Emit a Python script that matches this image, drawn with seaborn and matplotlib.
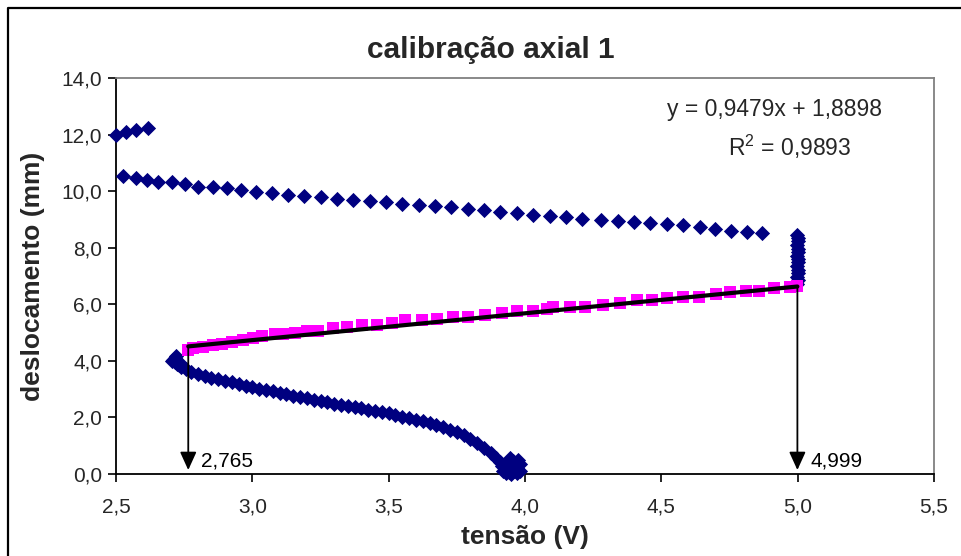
import matplotlib
matplotlib.use("Agg")
import matplotlib.pyplot as plt
import pandas as pd
import seaborn as sns
from matplotlib.lines import Line2D

sns.set_theme(style="white")
plt.rcParams['font.family'] = ['Liberation Sans', 'DejaVu Sans']
plt.rcParams['mathtext.fontset'] = 'custom'
plt.rcParams['mathtext.rm'] = 'Liberation Sans'

# Leituras do ensaio completo (losangos azuis): descida inicial, trecho vertical
# em 5 V, retorno superior e pontos finais perto de 12 mm
tensao_ensaio = [
    3.950, 3.960, 3.950, 3.960, 3.940, 3.970, 3.970, 3.930, 3.955, 3.965,
    3.920, 3.980, 3.980, 3.915, 3.975, 3.945,
    3.940, 3.935, 3.925, 3.910, 3.895, 3.875, 3.850, 3.825, 3.800, 3.775,
    3.750, 3.725, 3.700, 3.675, 3.650, 3.625, 3.600, 3.575, 3.550, 3.525,
    3.500, 3.475, 3.450, 3.425, 3.400, 3.375, 3.350, 3.325, 3.300, 3.275,
    3.250, 3.225, 3.200, 3.175, 3.150, 3.125, 3.100, 3.075, 3.050, 3.025,
    3.000, 2.975, 2.950, 2.925, 2.900, 2.875, 2.850, 2.825, 2.800, 2.775,
    2.755, 2.740, 2.730, 2.725, 2.715, 2.710, 2.715, 2.720, 2.705, 2.735,
    4.999, 5.000, 4.999, 5.001, 5.000, 4.999, 5.000, 5.001, 4.999, 5.000,
    5.000, 4.999, 5.001, 5.000, 4.999,
    4.868, 4.813, 4.755, 4.697, 4.640, 4.580, 4.520, 4.460, 4.400, 4.340,
    4.280, 4.210, 4.150, 4.090, 4.030, 3.970, 3.910, 3.850, 3.790, 3.730,
    3.670, 3.610, 3.550, 3.490, 3.430, 3.370, 3.310, 3.250, 3.190, 3.132,
    3.072, 3.013, 2.957, 2.906, 2.855, 2.802, 2.753, 2.704, 2.655, 2.613,
    2.573, 2.527,
    2.500, 2.537, 2.573, 2.617,
]
desloc_ensaio = [
    0.00, 0.10, 0.25, 0.38, 0.40, 0.22, 0.05, 0.02, 0.45, 0.30,
    0.12, 0.35, 0.12, 0.30, 0.50, 0.55,
    0.06, 0.16, 0.28, 0.42, 0.58, 0.76, 0.93, 1.11, 1.25, 1.37,
    1.47, 1.56, 1.65, 1.72, 1.80, 1.86, 1.91, 1.97, 2.03, 2.09,
    2.14, 2.20, 2.23, 2.27, 2.32, 2.37, 2.41, 2.45, 2.49, 2.53,
    2.57, 2.62, 2.68, 2.72, 2.77, 2.82, 2.87, 2.92, 2.97, 3.02,
    3.07, 3.12, 3.18, 3.24, 3.30, 3.35, 3.41, 3.46, 3.54, 3.62,
    3.70, 3.78, 3.84, 3.90, 3.95, 4.02, 4.10, 4.16, 3.98, 3.92,
    6.72, 6.85, 6.98, 7.10, 7.22, 7.35, 7.48, 7.60, 7.72, 7.85,
    7.97, 8.10, 8.22, 8.35, 8.45,
    8.53, 8.57, 8.60, 8.65, 8.74, 8.79, 8.84, 8.88, 8.92, 8.95,
    8.99, 9.03, 9.08, 9.13, 9.17, 9.22, 9.28, 9.33, 9.38, 9.43,
    9.47, 9.52, 9.56, 9.60, 9.64, 9.70, 9.73, 9.78, 9.82, 9.86,
    9.94, 9.98, 10.04, 10.10, 10.16, 10.16, 10.25, 10.31, 10.31, 10.39,
    10.45, 10.53,
    12.00, 12.08, 12.15, 12.23,
]

# Trecho usado na calibração (quadrados magenta)
tensao_calib = [
    2.765, 2.783, 2.820, 2.857, 2.888, 2.924, 2.967, 3.003, 3.034, 3.083,
    3.114, 3.156, 3.199, 3.242, 3.297, 3.346, 3.401, 3.456, 3.511, 3.560,
    3.621, 3.676, 3.737, 3.792, 3.853, 3.914, 3.969, 4.030, 4.079, 4.104,
    4.165, 4.220, 4.287, 4.348, 4.412, 4.464, 4.522, 4.580, 4.639, 4.699,
    4.752, 4.810, 4.859, 4.913, 4.972, 4.999,
]
desloc_calib = [
    4.37, 4.44, 4.49, 4.56, 4.61, 4.68, 4.75, 4.82, 4.88, 4.94,
    4.94, 5.00, 5.05, 5.05, 5.15, 5.21, 5.27, 5.27, 5.35, 5.43,
    5.43, 5.49, 5.55, 5.55, 5.62, 5.70, 5.76, 5.76, 5.82, 5.89,
    5.91, 5.91, 5.97, 6.06, 6.15, 6.15, 6.21, 6.27, 6.27, 6.35,
    6.42, 6.48, 6.48, 6.56, 6.62, 6.65,
]

# Ajuste linear do trecho de calibração
coef_angular = 0.9479
coef_linear = 1.8898
r_quadrado = 0.9893
limites_tensao = [2.765, 4.999]

x_ticks = [2.5, 3.0, 3.5, 4.0, 4.5, 5.0, 5.5]
y_ticks = [0, 2, 4, 6, 8, 10, 12, 14]

AZUL = "#000080"
MAGENTA = "#FF00FF"


def virgula(v, casas=1):
    return f"{v:.{casas}f}".replace(".", ",")


ensaio = pd.DataFrame({"tensao": tensao_ensaio, "desloc": desloc_ensaio})
calib = pd.DataFrame({"tensao": tensao_calib, "desloc": desloc_calib})
ajuste = pd.DataFrame({
    "tensao": limites_tensao,
    "desloc": [coef_angular * v + coef_linear for v in limites_tensao],
})

fig = plt.figure(figsize=(9.62, 5.56), dpi=100)
ax = fig.add_axes([116 / 962, 1 - 474 / 556, (934 - 116) / 962, (474 - 78) / 556])

sns.scatterplot(data=ensaio, x="tensao", y="desloc", marker="D", s=60,
                color=AZUL, linewidth=0, ax=ax, zorder=3, clip_on=False)
sns.scatterplot(data=calib, x="tensao", y="desloc", marker="s", s=72,
                color=MAGENTA, linewidth=0, ax=ax, zorder=4, clip_on=False)
sns.lineplot(data=ajuste, x="tensao", y="desloc", color="black", lw=3.0,
             ax=ax, zorder=5)

# Setas indicando os limites de tensão do trecho calibrado
for v in limites_tensao:
    topo = coef_angular * v + coef_linear
    ax.annotate("", xy=(v, 0.14), xytext=(v, topo),
                arrowprops=dict(arrowstyle="-|>,head_length=1.1,head_width=0.5",
                                color="black", lw=1.3, shrinkA=0, shrinkB=0,
                                mutation_scale=10),
                zorder=6)
    ax.text(v + 0.047, 0.45, virgula(v, 3), fontsize=15, ha="left",
            va="center", color="black", zorder=6)

ax.text(0.805, 0.92, f"y = {virgula(coef_angular, 4)}x + {virgula(coef_linear, 4)}",
        transform=ax.transAxes, fontsize=16.5, ha="center", va="center")
ax.text(0.823, 0.825, f"R$^2$ = {virgula(r_quadrado, 4)}",
        transform=ax.transAxes, fontsize=16.5, ha="center", va="center")

ax.set_xlim(2.5, 5.5)
ax.set_ylim(0, 14)
ax.set_xticks(x_ticks)
ax.set_yticks(y_ticks)
ax.set_xticklabels([virgula(v) for v in x_ticks], fontsize=15)
ax.set_yticklabels([virgula(v) for v in y_ticks], fontsize=15)
ax.tick_params(axis="both", direction="out", length=6, width=1.2,
               color="black", left=True, bottom=True)
ax.tick_params(axis="x", pad=11)
ax.tick_params(axis="y", pad=4)

for lado in ("left", "bottom"):
    ax.spines[lado].set_color("black")
    ax.spines[lado].set_linewidth(1.3)
for lado in ("top", "right"):
    ax.spines[lado].set_color("#808080")
    ax.spines[lado].set_linewidth(1.3)
ax.grid(False)

ax.set_xlabel("tensão (V)", fontsize=19, fontweight="bold", labelpad=6)
ax.set_ylabel("deslocamento (mm)", fontsize=19, fontweight="bold", labelpad=12)

fig.text(491 / 962, 1 - 50 / 556, "calibração axial 1", fontsize=21.5,
         fontweight="bold", ha="center", va="center")

# Moldura da área do gráfico
fig.add_artist(Line2D([8 / 962, 8 / 962, 1.0], [0.0, 1 - 8 / 556, 1 - 8 / 556],
                      transform=fig.transFigure, color="black", lw=1.6))

fig.savefig("out.png", dpi=100)
